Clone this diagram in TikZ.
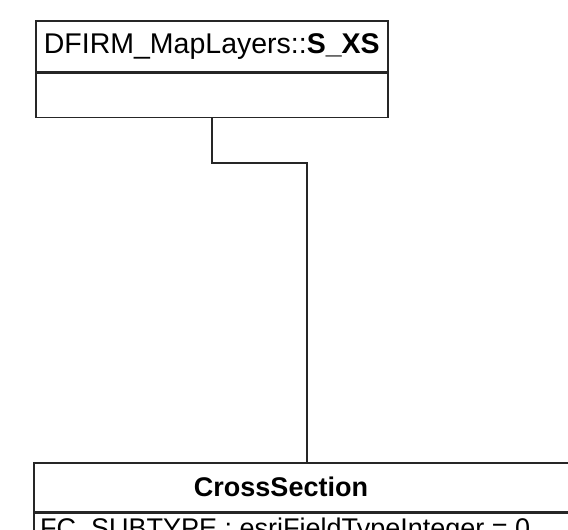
\documentclass[tikz,border=0pt]{standalone}
\usepackage{fontspec}
\setmainfont{Liberation Sans}
\usetikzlibrary{positioning}

\tikzset{
  umlbox/.style={draw=black!85, line width=1.6pt, inner sep=0pt, font=\fontsize{27}{32}\selectfont},
  umltext/.style={inner sep=0pt, font=\fontsize{27}{32}\selectfont},
  assoc/.style={draw=black!85, line width=1.6pt}
}

\begin{document}
\begin{tikzpicture}[x=1pt,y=1pt]
\useasboundingbox (0,0) rectangle (568,530);
\clip (0,0) rectangle (568,530);
% package class
\node[umlbox, minimum width=352pt, minimum height=51pt, anchor=north west, font=\fontsize{28.5}{33}\selectfont] (xshead) at (35,510) {DFIRM\_MapLayers::\textbf{S\_XS}};
\node[umlbox, minimum width=352pt, minimum height=44pt, anchor=north] (xsbody) at (xshead.south) {};
% cross section class
\node[umlbox, minimum width=600pt, minimum height=49pt, anchor=north west] (crosshead) at (33,68) {};
\node[umltext] (crossname) at (281,43.5) {\textbf{CrossSection}};
\node[umlbox, minimum width=600pt, minimum height=40pt, anchor=north west] (crossbody) at (crosshead.south west) {};
\node[umltext, anchor=north west] (crossattr) at (40,12) {FC\_SUBTYPE : esriFieldTypeInteger = 0};
% association
\coordinate (bend) at (307,367);
\draw[assoc] (xsbody.south) |- (bend) -- (bend |- crosshead.north);
\end{tikzpicture}
\end{document}
